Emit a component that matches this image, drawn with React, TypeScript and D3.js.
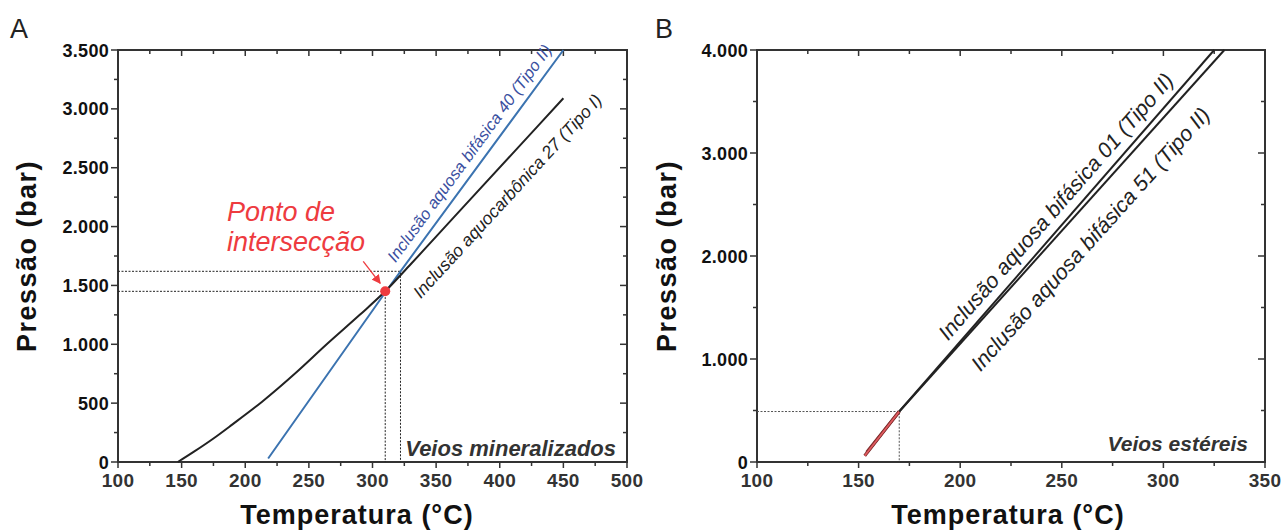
import React from 'react';
import * as d3 from 'd3';

// Panel A: Veios mineralizados
const aquocarbonica27 = [
  { t: 147, p: 0 }, { t: 160, p: 90 }, { t: 175, p: 200 }, { t: 190, p: 320 },
  { t: 213, p: 510 }, { t: 240, p: 760 }, { t: 264, p: 1000 }, { t: 290, p: 1250 },
  { t: 310, p: 1450 }, { t: 330, p: 1680 }, { t: 370, p: 2150 }, { t: 410, p: 2620 },
  { t: 450, p: 3090 },
];
const bifasica40 = [
  { t: 218, p: 30 }, { t: 310, p: 1440 }, { t: 322, p: 1620 }, { t: 450, p: 3500 },
];
const intersecao = { t: 310, p: 1450 };
const segundoPonto = { t: 322, p: 1620 };
const xTicksA = [100, 150, 200, 250, 300, 350, 400, 450, 500];
const yTicksA = [0, 500, 1000, 1500, 2000, 2500, 3000, 3500];

// Panel B: Veios estéreis
const bifasica01 = [{ t: 170, p: 490 }, { t: 325, p: 4000 }];
const bifasica51 = [{ t: 170, p: 490 }, { t: 330, p: 4000 }];
const vermelho01 = [{ t: 154, p: 95 }, { t: 170, p: 490 }];
const vermelho51 = [{ t: 153, p: 60 }, { t: 170, p: 490 }];
const pontoB = { t: 170, p: 490 };
const xTicksB = [100, 150, 200, 250, 300, 350];
const yTicksB = [0, 1000, 2000, 3000, 4000];

const fmt = (v: number) => (v >= 1000 ? d3.format(',')(v).replace(',', '.') : String(v));
const INK = '#333';
const FONT = '"Liberation Sans", Arial, sans-serif';

type Pt = { t: number; p: number };

function Frame({ x, y, xTicks, yTicks, xMinor, yMinor }: any) {
  const [x0, x1] = x.range();
  const [y0, y1] = y.range();
  return (
    <g>
      <rect x={x0} y={y1} width={x1 - x0} height={y0 - y1} fill="none" stroke={INK} strokeWidth={2} />
      {xMinor.map((v: number) => {
        const major = xTicks.includes(v);
        return (
          <g key={'x' + v}>
            <line x1={x(v)} x2={x(v)} y1={y0} y2={y0 + (major ? 6 : 4)} stroke={INK} strokeWidth={1.5} />
            <line x1={x(v)} x2={x(v)} y1={y1} y2={y1 + (major ? 6 : 4)} stroke={INK} strokeWidth={1.5} />
          </g>
        );
      })}
      {yMinor.map((v: number) => {
        const major = yTicks.includes(v);
        return (
          <g key={'y' + v}>
            <line x1={x0 - (major ? 7 : 4)} x2={x0} y1={y(v)} y2={y(v)} stroke={INK} strokeWidth={1.5} />
            <line x1={x1 - (major ? 7 : 4)} x2={x1} y1={y(v)} y2={y(v)} stroke={INK} strokeWidth={1.5} />
          </g>
        );
      })}
      {xTicks.map((v: number) => (
        <text key={'xl' + v} x={x(v)} y={y0 + 25} textAnchor="middle" fontSize={19} fontWeight="bold"
          fill={INK} fontFamily={FONT} letterSpacing={0.3}>{v}</text>
      ))}
      {yTicks.map((v: number) => (
        <text key={'yl' + v} x={x0 - 9} y={y(v) + 6.5} textAnchor="end" fontSize={18} fontWeight="bold"
          fill="#111" fontFamily={FONT} letterSpacing={0.3}>{fmt(v)}</text>
      ))}
    </g>
  );
}

function Titles({ cx, cy, yx }: { cx: number; cy: number; yx: number }) {
  return (
    <g fontFamily={FONT} fontWeight="bold" fill="#111">
      <text x={cx} y={524} textAnchor="middle" fontSize={27} letterSpacing={1}>Temperatura (°C)</text>
      <text transform={`translate(${yx},${cy}) rotate(-90)`} textAnchor="middle" fontSize={27}
        letterSpacing={1.5}>Pressão (bar)</text>
    </g>
  );
}

function PanelA() {
  const x = d3.scaleLinear().domain([100, 500]).range([118, 627]);
  const y = d3.scaleLinear().domain([0, 3500]).range([462, 50]);
  const line = d3.line<Pt>().x((d) => x(d.t)).y((d) => y(d.p)).curve(d3.curveMonotoneX);
  const lin = d3.line<Pt>().x((d) => x(d.t)).y((d) => y(d.p));
  const xMinor = d3.range(100, 501, 25);
  const yMinor = d3.range(0, 3501, 250);
  const ang = (a: Pt, b: Pt) => (Math.atan2(y(b.p) - y(a.p), x(b.t) - x(a.t)) * 180) / Math.PI;
  const angBlue = ang(bifasica40[2], bifasica40[3]);
  const angBlack = ang(aquocarbonica27[9], aquocarbonica27[12]);
  return (
    <g>
      <text x={10} y={38} fontSize={27} fontFamily={FONT} fill="#222" fontWeight={300}>A</text>
      <Frame x={x} y={y} xTicks={xTicksA} yTicks={yTicksA} xMinor={xMinor} yMinor={yMinor} />
      <g stroke="#222" strokeWidth={1} strokeDasharray="2,1.5" fill="none">
        <path d={`M${x(100)},${y(intersecao.p)}H${x(intersecao.t)}V${y(0)}`} />
        <path d={`M${x(100)},${y(segundoPonto.p)}H${x(segundoPonto.t)}V${y(0)}`} />
      </g>
      <path d={lin(bifasica40) || ''} fill="none" stroke="#3b73b0" strokeWidth={2} />
      <path d={line(aquocarbonica27) || ''} fill="none" stroke="#222" strokeWidth={2} />
      <circle cx={x(intersecao.t)} cy={y(intersecao.p)} r={5} fill="#ee3b3f" />
      <defs>
        <marker id="arr" viewBox="0 0 10 10" refX="9" refY="5" markerWidth="7" markerHeight="7" orient="auto">
          <path d="M0,0L10,5L0,10z" fill="#ee3b3f" />
        </marker>
      </defs>
      <line x1={x(intersecao.t) - 22} y1={y(intersecao.p) - 30} x2={x(intersecao.t) - 5} y2={y(intersecao.p) - 8}
        stroke="#ee3b3f" strokeWidth={1.3} markerEnd="url(#arr)" />
      <g fontFamily={FONT} fontStyle="italic" fill="#ee3b3f" fontSize={27}>
        <text x={227} y={221}>Ponto de</text>
        <text x={227} y={251}>intersecção</text>
      </g>
      <text transform={`translate(${x(322) - 5},${y(1620) - 8}) rotate(${angBlue})`} fontFamily={FONT}
        fontStyle="italic" fill="#3a4fa0" fontSize={16.5}>Inclusão aquosa bifásica 40 (Tipo II)</text>
      <text transform={`translate(${x(330) + 10},${y(1680) + 35}) rotate(${angBlack})`} fontFamily={FONT}
        fontStyle="italic" fill="#222" fontSize={17.5}>Inclusão aquocarbônica 27 (Tipo I)</text>
      <text x={616} y={456} textAnchor="end" fontFamily={FONT} fontStyle="italic" fontWeight="bold"
        fill="#333" fontSize={22}>Veios mineralizados</text>
      <Titles cx={357} cy={256} yx={36} />
    </g>
  );
}

function PanelB() {
  const x = d3.scaleLinear().domain([100, 350]).range([757, 1265]);
  const y = d3.scaleLinear().domain([0, 4000]).range([462, 50]);
  const lin = d3.line<Pt>().x((d) => x(d.t)).y((d) => y(d.p));
  const xMinor = d3.range(100, 351, 25);
  const yMinor = d3.range(0, 4001, 500);
  const ang = (a: Pt, b: Pt) => (Math.atan2(y(b.p) - y(a.p), x(b.t) - x(a.t)) * 180) / Math.PI;
  const a01 = ang(bifasica01[0], bifasica01[1]);
  const a51 = ang(bifasica51[0], bifasica51[1]);
  return (
    <g>
      <text x={655} y={38} fontSize={27} fontFamily={FONT} fill="#222" fontWeight={300}>B</text>
      <Frame x={x} y={y} xTicks={xTicksB} yTicks={yTicksB} xMinor={xMinor} yMinor={yMinor} />
      <path d={`M${x(100)},${y(pontoB.p)}H${x(pontoB.t)}V${y(0)}`} stroke="#555" strokeWidth={1}
        strokeDasharray="2,1.5" fill="none" />
      {[vermelho01, vermelho51].map((d, i) => (
        <g key={'r' + i}>
          <path d={lin(d) || ''} fill="none" stroke="#7a2a2a" strokeWidth={3.2} />
          <path d={lin(d) || ''} fill="none" stroke="#e05a5f" strokeWidth={1.8} />
        </g>
      ))}
      <path d={lin(bifasica01) || ''} fill="none" stroke="#222" strokeWidth={2} />
      <path d={lin(bifasica51) || ''} fill="none" stroke="#222" strokeWidth={2} />
      <text transform={`translate(${x(194)},${y(1170)}) rotate(${a01})`} fontFamily={FONT}
        fontStyle="italic" fill="#222" fontSize={21.5}>Inclusão aquosa bifásica 01 (Tipo II)</text>
      <text transform={`translate(${x(210)},${y(870)}) rotate(${a51})`} fontFamily={FONT}
        fontStyle="italic" fill="#222" fontSize={21.5}>Inclusão aquosa bifásica 51 (Tipo II)</text>
      <text x={1248} y={451} textAnchor="end" fontFamily={FONT} fontStyle="italic" fontWeight="bold"
        fill="#333" fontSize={21}>Veios estéreis</text>
      <Titles cx={1008} cy={256} yx={676} />
    </g>
  );
}

export default function App() {
  return (
    <svg width={1287} height={530} style={{ position: 'absolute', left: 0, top: 0, background: '#fff' }}>
      <PanelA />
      <PanelB />
    </svg>
  );
}
